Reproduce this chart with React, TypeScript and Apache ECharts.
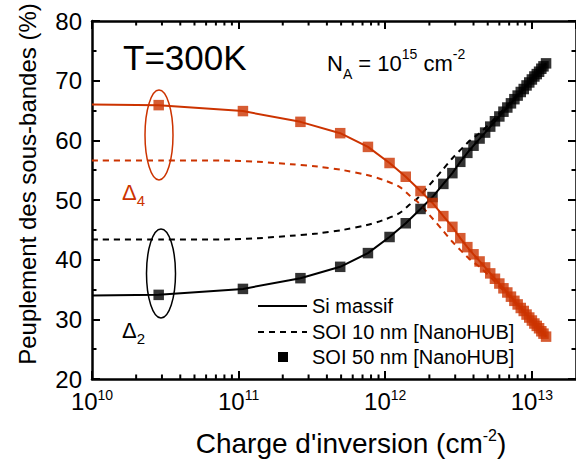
import React, { useEffect, useRef } from "react";
import * as echarts from "echarts";

const FONT = '"Liberation Sans", Arial, Helvetica, sans-serif';
const RED = "#cc3300";
const BLACK = "#000000";

// SOI 50 nm [NanoHUB] (square markers)
const squareX = [
  2.85e10, 1.07e11, 2.64e11, 4.93e11, 7.62e11, 1.07e12, 1.38e12, 1.74e12, 2.1e12, 2.49e12,
  2.87e12, 3.25e12, 3.63e12, 4.0e12, 4.4e12, 4.8e12, 5.2e12, 5.6e12, 6.0e12, 6.4e12,
  6.8e12, 7.2e12, 7.6e12, 8.0e12, 8.4e12, 8.8e12, 9.2e12, 9.6e12, 1.0e13, 1.04e13,
  1.08e13, 1.12e13, 1.16e13, 1.2e13, 1.25e13,
];
const squareDelta4 = [
  65.9, 64.9, 63.1, 61.2, 58.9, 56.2, 53.9, 51.5, 49.5, 47.3,
  45.5, 43.6, 42.1, 40.9, 39.7, 38.7, 37.7, 36.8, 36.0, 35.2,
  34.5, 33.8, 33.1, 32.5, 31.9, 31.4, 30.8, 30.3, 29.8, 29.3,
  28.9, 28.5, 28.0, 27.6, 27.1,
];
const squareDelta2 = [
  34.1, 35.1, 36.9, 38.8, 41.1, 43.8, 46.1, 48.5, 50.5, 52.7,
  54.5, 56.4, 57.9, 59.1, 60.3, 61.3, 62.3, 63.2, 64.0, 64.8,
  65.5, 66.2, 66.9, 67.5, 68.1, 68.6, 69.2, 69.7, 70.2, 70.7,
  71.1, 71.5, 72.0, 72.4, 72.9,
];

// Si massif (solid lines)
const siX = [
  1e10, 2.85e10, 1.07e11, 2.64e11, 4.93e11, 7.62e11, 1.07e12, 1.38e12, 1.74e12, 2.1e12,
  2.49e12, 2.87e12, 3.25e12, 3.63e12, 4.0e12, 4.8e12, 5.6e12, 6.4e12, 7.2e12, 8.0e12,
  8.8e12, 9.6e12, 1.04e13, 1.12e13, 1.2e13, 1.25e13,
];
const siDelta4 = [
  66.0, 65.9, 64.9, 63.1, 61.2, 58.9, 56.2, 53.9, 51.5, 49.5,
  47.3, 45.5, 43.6, 42.1, 40.9, 38.7, 36.8, 35.2, 33.8, 32.5,
  31.4, 30.3, 29.3, 28.5, 27.6, 27.1,
];
const siDelta2 = [
  34.0, 34.1, 35.1, 36.9, 38.8, 41.1, 43.8, 46.1, 48.5, 50.5,
  52.7, 54.5, 56.4, 57.9, 59.1, 61.3, 63.2, 64.8, 66.2, 67.5,
  68.6, 69.7, 70.7, 71.5, 72.4, 72.9,
];

// SOI 10 nm [NanoHUB] (dashed lines)
const soi10X = [
  1e10, 3e10, 8e10, 1.35e11, 2.27e11, 3.45e11, 5.17e11, 7.5e11, 9.6e11, 1.25e12,
  1.46e12, 1.66e12, 2.0e12, 2.45e12, 2.87e12, 3.35e12, 3.8e12, 4.5e12, 5.5e12, 7.0e12,
  9.0e12, 1.1e13, 1.25e13,
];
const soi10Delta4 = [
  56.6, 56.6, 56.6, 56.4, 56.0, 55.6, 55.0, 54.2, 53.4, 52.2,
  50.8, 49.7, 47.5, 45.0, 43.0, 41.3, 40.0, 38.6, 36.5, 33.8,
  31.0, 28.7, 27.1,
];
const soi10Delta2 = [
  43.4, 43.4, 43.4, 43.6, 44.0, 44.4, 45.0, 45.8, 46.6, 47.8,
  49.2, 50.3, 52.5, 55.0, 57.0, 58.7, 60.0, 61.4, 63.5, 66.2,
  69.0, 71.3, 72.9,
];

const xMin = 1e10;
const xMax = 2e13;
const yMin = 20;
const yMax = 80;
const yInterval = 10;
const xMinorTicks = [
  2e10, 3e10, 4e10, 5e10, 6e10, 7e10, 8e10, 9e10,
  2e11, 3e11, 4e11, 5e11, 6e11, 7e11, 8e11, 9e11,
  2e12, 3e12, 4e12, 5e12, 6e12, 7e12, 8e12, 9e12,
];

const zip = (xs: number[], ys: number[]) => xs.map((x, i) => [x, ys[i]]);

export default function App() {
  const ref = useRef<HTMLDivElement>(null);

  useEffect(() => {
    if (!ref.current) return;
    const chart = echarts.init(ref.current, undefined, { renderer: "svg" });

    const axisLine = { show: true, onZero: false, lineStyle: { color: BLACK, width: 2.5 } };
    const axisTick = { show: true, inside: true, length: 8, lineStyle: { color: BLACK, width: 2 } };

    const option: any = {
      animation: false,
      backgroundColor: "#ffffff",
      grid: { left: 92, top: 21, width: 488, height: 358, show: false },
      xAxis: [
        {
          type: "log",
          logBase: 10,
          min: xMin,
          max: xMax,
          position: "bottom",
          axisLine,
          axisTick,
          splitLine: { show: false },
          axisLabel: {
            show: true,
            margin: 9,
            showMaxLabel: false,
            formatter: (v: number) => `{b|10}{s|${Math.round(Math.log10(v))}}`,
            rich: {
              b: { fontSize: 24, fontFamily: FONT, color: BLACK, lineHeight: 26 },
              s: { fontSize: 14, fontFamily: FONT, color: BLACK, lineHeight: 8, verticalAlign: "top" },
            },
          },
        },
        {
          type: "log",
          logBase: 10,
          min: xMin,
          max: xMax,
          position: "top",
          axisLine,
          axisTick,
          splitLine: { show: false },
          axisLabel: { show: false },
        },
      ],
      yAxis: [
        {
          type: "value",
          min: yMin,
          max: yMax,
          interval: yInterval,
          position: "left",
          axisLine,
          axisTick,
          minorTick: { show: true, splitNumber: 2, length: 4.5, lineStyle: { color: BLACK, width: 2 } },
          splitLine: { show: false },
          minorSplitLine: { show: false },
          axisLabel: { fontSize: 24, fontFamily: FONT, color: BLACK, margin: 10 },
        },
        {
          type: "value",
          min: yMin,
          max: yMax,
          interval: yInterval,
          position: "right",
          axisLine,
          axisTick,
          minorTick: { show: true, splitNumber: 2, length: 4.5, lineStyle: { color: BLACK, width: 2 } },
          splitLine: { show: false },
          axisLabel: { show: false },
        },
      ],
      series: [
        {
          name: "Si massif Δ2",
          type: "line",
          data: zip(siX, siDelta2),
          showSymbol: false,
          lineStyle: { color: BLACK, width: 2 },
          z: 2,
        },
        {
          name: "Si massif Δ4",
          type: "line",
          data: zip(siX, siDelta4),
          showSymbol: false,
          lineStyle: { color: RED, width: 2 },
          z: 2,
        },
        {
          name: "SOI 10 nm Δ2",
          type: "line",
          data: zip(soi10X, soi10Delta2),
          showSymbol: false,
          smooth: 0.3,
          lineStyle: { color: BLACK, width: 2, type: [6, 5] },
          z: 2,
        },
        {
          name: "SOI 10 nm Δ4",
          type: "line",
          data: zip(soi10X, soi10Delta4),
          showSymbol: false,
          smooth: 0.3,
          lineStyle: { color: RED, width: 2, type: [6, 5] },
          z: 2,
        },
        {
          name: "SOI 50 nm Δ2",
          type: "scatter",
          data: zip(squareX, squareDelta2),
          symbol: "rect",
          symbolSize: 10.5,
          itemStyle: { color: BLACK },
          z: 3,
        },
        {
          name: "SOI 50 nm Δ4",
          type: "scatter",
          data: zip(squareX, squareDelta4),
          symbol: "rect",
          symbolSize: 10.5,
          itemStyle: { color: RED },
          z: 3,
        },
        {
          name: "minor x ticks",
          type: "custom",
          silent: true,
          clip: false,
          data: xMinorTicks.map((v) => [v, yMin]),
          encode: { x: 0, y: 1 },
          renderItem: (_p: any, api: any) => {
            const v = api.value(0);
            const b = api.coord([v, yMin]);
            const t = api.coord([v, yMax]);
            return {
              type: "group",
              children: [
                { type: "line", shape: { x1: b[0], y1: b[1], x2: b[0], y2: b[1] - 4.5 }, style: { stroke: BLACK, lineWidth: 2 } },
                { type: "line", shape: { x1: t[0], y1: t[1], x2: t[0], y2: t[1] + 4.5 }, style: { stroke: BLACK, lineWidth: 2 } },
              ],
            };
          },
          z: 4,
        },
      ],
      graphic: [
        {
          type: "text",
          style: {
            x: 27,
            y: 184,
            text: "Peuplement des sous-bandes (%)",
            font: `24px ${FONT}`,
            fill: BLACK,
            align: "center",
            verticalAlign: "middle",
          },
          rotation: Math.PI / 2,
          x: 0,
          y: 0,
          originX: 27,
          originY: 184,
        },
        {
          type: "text",
          style: {
            x: 351,
            y: 443,
            text: "{t|Charge d'inversion (cm}{s|-2}{t|)}",
            align: "center",
            verticalAlign: "middle",
            rich: {
              t: { fontSize: 28, fontFamily: FONT, fill: BLACK, lineHeight: 32 },
              s: { fontSize: 16, fontFamily: FONT, fill: BLACK, lineHeight: 12, verticalAlign: "top" },
            },
          },
        },
        {
          type: "text",
          style: {
            x: 123,
            y: 57.5,
            text: "T=300K",
            font: `35px ${FONT}`,
            fill: BLACK,
            align: "left",
            verticalAlign: "middle",
          },
        },
        {
          type: "text",
          style: {
            x: 327,
            y: 63.5,
            text: "{n|N}{sub|A}{n| = 10}{sup|15}{n| cm}{sup|-2}",
            align: "left",
            verticalAlign: "middle",
            rich: {
              n: { fontSize: 22, fontFamily: FONT, fill: BLACK, lineHeight: 34 },
              sup: { fontSize: 14, fontFamily: FONT, fill: BLACK, lineHeight: 16, verticalAlign: "top" },
              sub: { fontSize: 14, fontFamily: FONT, fill: BLACK, lineHeight: 6, verticalAlign: "bottom" },
            },
          },
        },
        {
          type: "text",
          style: {
            x: 122,
            y: 192.5,
            text: "{d|Δ}{s|4}",
            align: "left",
            verticalAlign: "middle",
            rich: {
              d: { fontSize: 22, fontFamily: FONT, fill: RED, lineHeight: 30 },
              s: { fontSize: 15, fontFamily: FONT, fill: RED, lineHeight: 6, verticalAlign: "bottom" },
            },
          },
        },
        {
          type: "text",
          style: {
            x: 122,
            y: 330.5,
            text: "{d|Δ}{s|2}",
            align: "left",
            verticalAlign: "middle",
            rich: {
              d: { fontSize: 22, fontFamily: FONT, fill: BLACK, lineHeight: 30 },
              s: { fontSize: 15, fontFamily: FONT, fill: BLACK, lineHeight: 6, verticalAlign: "bottom" },
            },
          },
        },
        {
          type: "ellipse",
          shape: { cx: 159, cy: 135, rx: 14, ry: 45 },
          style: { fill: "none", stroke: RED, lineWidth: 1.5 },
          z: 10,
        },
        {
          type: "ellipse",
          shape: { cx: 161, cy: 273.5, rx: 14.5, ry: 44.5 },
          style: { fill: "none", stroke: BLACK, lineWidth: 1.5 },
          z: 10,
        },
        // legend
        { type: "line", shape: { x1: 258, y1: 306, x2: 307, y2: 306 }, style: { stroke: BLACK, lineWidth: 2 } },
        { type: "line", shape: { x1: 258, y1: 332, x2: 307, y2: 332 }, style: { stroke: BLACK, lineWidth: 2, lineDash: [6, 5] } },
        { type: "rect", shape: { x: 278, y: 352, width: 10, height: 10 }, style: { fill: BLACK } },
        { type: "text", style: { x: 312, y: 305.5, text: "Si massif", font: `20px ${FONT}`, fill: BLACK, verticalAlign: "middle" } },
        { type: "text", style: { x: 312, y: 331.5, text: "SOI 10 nm [NanoHUB]", font: `20px ${FONT}`, fill: BLACK, verticalAlign: "middle" } },
        { type: "text", style: { x: 312, y: 357, text: "SOI 50 nm [NanoHUB]", font: `20px ${FONT}`, fill: BLACK, verticalAlign: "middle" } },
      ],
    };

    chart.setOption(option);
    return () => chart.dispose();
  }, []);

  return (
    <div
      ref={ref}
      style={{ position: "fixed", left: 0, top: 0, width: 576, height: 462, background: "#fff" }}
    />
  );
}
